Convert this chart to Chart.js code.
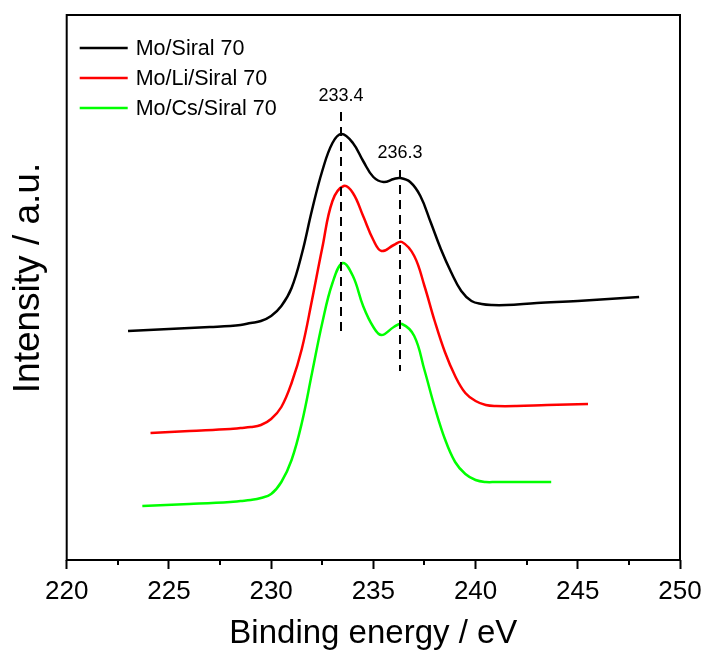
<!DOCTYPE html>
<html>
<head>
<meta charset="utf-8">
<script src="https://cdn.jsdelivr.net/npm/chart.js@4.4.1/dist/chart.umd.min.js"></script>
<style>
  html, body { margin: 0; padding: 0; background: #fff; }
  #wrap { width: 706px; height: 657px; }
</style>
</head>
<body>
<div id="wrap"><canvas id="xps"></canvas></div>
<script>
// Mo 3d XPS spectra (intensity in a.u.)
const seriesNames = ['Mo/Siral 70', 'Mo/Li/Siral 70', 'Mo/Cs/Siral 70'];
const seriesColors = ['#000000', '#ff0000', '#00ff00'];

const moEnergy = [223.0, 225.0, 227.0, 228.0, 228.5, 229.0, 229.5, 230.0, 230.5, 231.0, 231.5, 232.0, 232.5, 233.0, 233.45, 234.0, 234.5, 235.0, 235.5, 236.0, 236.3, 236.8, 237.3, 237.8, 238.3, 238.8, 239.3, 239.8, 240.3, 240.8, 241.5, 243.0, 245.0, 248.0];
const moIntensity = [229, 231, 233, 234, 235, 237, 239, 244, 254, 272, 306, 350, 389, 417, 426, 417, 399, 383, 378, 381, 382, 378, 364, 338, 311, 288, 269, 259, 256, 255, 255, 257, 259, 263];

const liEnergy = [224.1, 226.0, 228.0, 228.5, 229.0, 229.5, 230.0, 230.5, 231.0, 231.5, 232.0, 232.5, 233.0, 233.55, 234.0, 234.5, 235.0, 235.4, 236.0, 236.4, 237.0, 237.5, 238.0, 238.5, 239.0, 239.5, 240.0, 240.5, 241.0, 242.0, 243.5, 245.5];
const liIntensity = [127, 129, 131, 132, 133, 135, 141, 153, 177, 211, 260, 312, 359, 374, 367, 344, 320, 309, 315, 318, 304, 274, 239, 208, 184, 167, 159, 155, 154, 154, 155, 156];

const csEnergy = [223.7, 226.0, 228.0, 228.5, 229.0, 229.5, 230.0, 230.5, 231.0, 231.5, 232.0, 232.5, 233.0, 233.5, 234.0, 234.5, 235.0, 235.4, 236.0, 236.4, 237.0, 237.5, 238.0, 238.5, 239.0, 239.5, 240.0, 240.5, 241.0, 242.0, 243.7];
const csIntensity = [54, 56, 58, 59, 60, 62, 66, 78, 100, 137, 187, 237, 277, 297, 284, 254, 233, 225, 233, 236, 224, 190, 153, 121, 98, 86, 80, 78, 78, 78, 78];

// x axis ticks and the two marked peak positions
const xTicks = [220, 225, 230, 235, 240, 245, 250];
const xMinorTicks = [222.5, 227.5, 232.5, 237.5, 242.5, 247.5];
const peakEnergy = [233.4, 236.3];
const peakLabels = ['233.4', '236.3'];
const peakLineTop = [448, 390];
const peakLineBottom = [225, 189];
const peakLabelY = [464, 407];

const FONT = "'Liberation Sans', Arial, sans-serif";

function pts(xs, ys) {
  return xs.map((x, i) => ({x: x, y: ys[i]}));
}

const frameAndMarks = {
  id: 'frameAndMarks',
  afterDatasetsDraw(chart) {
    const {ctx, chartArea: a, scales: {x, y}} = chart;
    ctx.save();
    // frame
    ctx.strokeStyle = '#000';
    ctx.lineWidth = 2;
    ctx.strokeRect(a.left, a.top, a.right - a.left, a.bottom - a.top);
    // minor ticks
    xMinorTicks.forEach(v => {
      const px = Math.round(x.getPixelForValue(v));
      ctx.beginPath();
      ctx.moveTo(px, a.bottom);
      ctx.lineTo(px, a.bottom + 5);
      ctx.stroke();
    });
    // dashed peak markers and labels
    ctx.setLineDash([9, 6]);
    ctx.lineWidth = 2;
    ctx.fillStyle = '#000';
    ctx.font = '18px ' + FONT;
    ctx.textAlign = 'center';
    ctx.textBaseline = 'middle';
    peakEnergy.forEach((e, i) => {
      const px = Math.round(x.getPixelForValue(e));
      ctx.beginPath();
      ctx.moveTo(px, y.getPixelForValue(peakLineTop[i]));
      ctx.lineTo(px, y.getPixelForValue(peakLineBottom[i]));
      ctx.stroke();
      ctx.fillText(peakLabels[i], px, y.getPixelForValue(peakLabelY[i]));
    });
    ctx.setLineDash([]);
    // legend inside the plot
    ctx.textAlign = 'left';
    ctx.font = '21.5px ' + FONT;
    chart.data.datasets.forEach((ds, i) => {
      const yy = a.top + 33 + i * 30;
      ctx.strokeStyle = ds.borderColor;
      ctx.lineWidth = 2.5;
      ctx.beginPath();
      ctx.moveTo(a.left + 13, yy);
      ctx.lineTo(a.left + 61, yy);
      ctx.stroke();
      ctx.fillText(ds.label, a.left + 69, yy + 1);
    });
    // y axis title
    ctx.translate(39, 278);
    ctx.rotate(-Math.PI / 2);
    ctx.textAlign = 'center';
    ctx.textBaseline = 'alphabetic';
    ctx.font = '37px ' + FONT;
    ctx.fillText('Intensity / a.u.', 0, 0);
    ctx.restore();
  }
};

new Chart(document.getElementById('xps'), {
  type: 'line',
  data: {
    datasets: [
      {label: seriesNames[0], data: pts(moEnergy, moIntensity)},
      {label: seriesNames[1], data: pts(liEnergy, liIntensity)},
      {label: seriesNames[2], data: pts(csEnergy, csIntensity)}
    ].map((d, i) => Object.assign(d, {
      borderColor: seriesColors[i],
      borderWidth: 2.5,
      pointRadius: 0,
      fill: false,
      tension: 0.4
    }))
  },
  options: {
    responsive: true,
    maintainAspectRatio: false,
    animation: false,
    layout: {padding: {top: 15, right: 26, left: 0, bottom: 0}},
    plugins: {legend: {display: false}, tooltip: {enabled: false}},
    scales: {
      x: {
        type: 'linear',
        min: 220,
        max: 250,
        afterBuildTicks: s => { s.ticks = xTicks.map(v => ({value: v})); },
        afterFit: s => { s.height = 97; s.paddingLeft = 0; s.paddingRight = 0; },
        ticks: {color: '#000', font: {family: FONT, size: 26}, padding: 7, maxRotation: 0},
        grid: {drawOnChartArea: false, tickLength: 9, tickWidth: 2, tickColor: '#000'},
        border: {display: false},
        title: {display: true, text: 'Binding energy / eV', color: '#000',
                font: {family: FONT, size: 33}, padding: {top: 0, bottom: 3}}
      },
      y: {
        min: 0,
        max: 545,
        afterFit: s => { s.width = 66.7; },
        ticks: {display: false},
        grid: {display: false},
        border: {display: false}
      }
    }
  },
  plugins: [frameAndMarks]
});
</script>
</body>
</html>
